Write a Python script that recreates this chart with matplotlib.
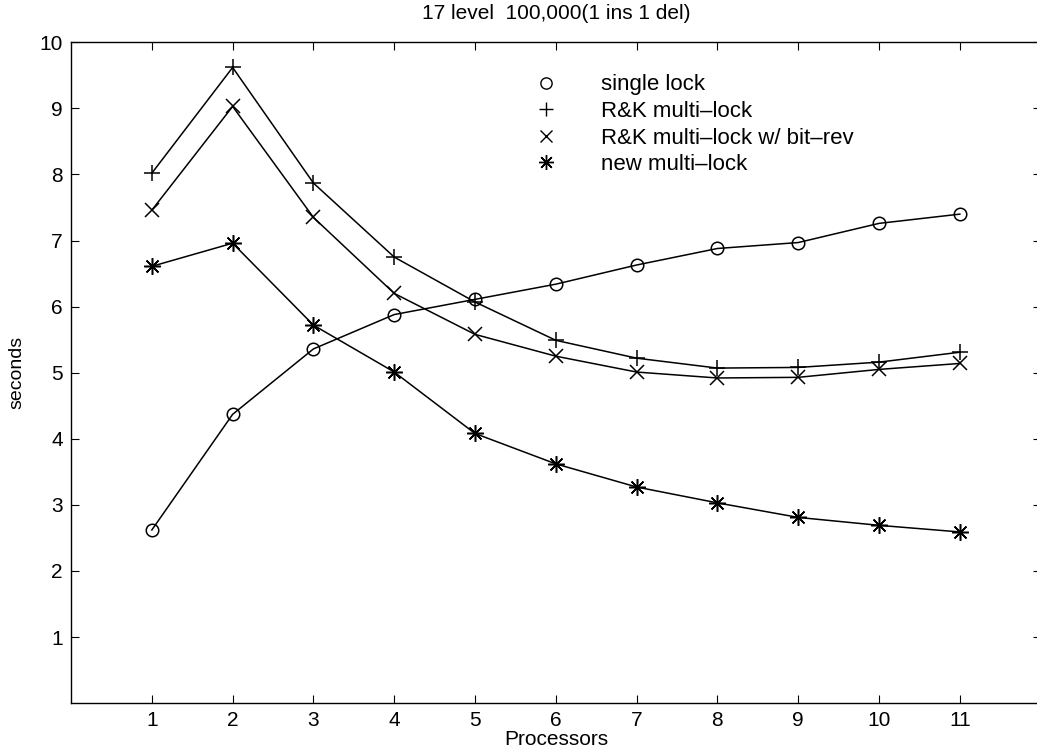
import matplotlib.pyplot as plt
from matplotlib.lines import Line2D

plt.rcParams['font.family'] = ['Liberation Sans', 'DejaVu Sans']

processors = [1, 2, 3, 4, 5, 6, 7, 8, 9, 10, 11]

# seconds
singleLock = [2.62, 4.37, 5.36, 5.88, 6.11, 6.34, 6.63, 6.88, 6.97, 7.26, 7.40]
rkMulti = [8.02, 9.62, 7.87, 6.75, 6.07, 5.49, 5.22, 5.07, 5.08, 5.16, 5.31]
rkBitRev = [7.46, 9.03, 7.35, 6.20, 5.58, 5.25, 5.01, 4.92, 4.93, 5.05, 5.14]
newMulti = [6.61, 6.96, 5.72, 5.01, 4.08, 3.62, 3.27, 3.03, 2.81, 2.69, 2.59]

labels = ['single lock', 'R&K multi\u2013lock', 'R&K multi\u2013lock w/ bit\u2013rev', 'new multi\u2013lock']
# matlab style asterisk = 8 armed star marker
markers = ['o', '+', 'x', (8, 2, 0)]
sizes = [9, 11, 10, 12]

fig = plt.figure(figsize=(10.37, 7.56), dpi=100)
ax = fig.add_axes([0.0685, 0.070, 0.935, 0.874])

for ys, m, s in zip([singleLock, rkMulti, rkBitRev, newMulti], markers, sizes):
    ax.plot(processors, ys, color='black', linewidth=1.1, marker=m, markersize=s,
            markerfacecolor='none', markeredgecolor='black', markeredgewidth=1.1)

ax.set_xlim(0, 12)
ax.set_ylim(0, 10)
ax.set_xticks(processors)
ax.set_yticks(range(1, 11))
ax.tick_params(direction='in', top=True, right=True, length=6, width=0.8,
               labelsize=15, pad=6)
for sp in ax.spines.values():
    sp.set_linewidth(1.0)

ax.set_xlabel('Processors', fontsize=15, labelpad=0)
ax.set_ylabel('seconds', fontsize=14, labelpad=10)
ax.set_title('17 level  100,000(1 ins 1 del)', fontsize=15, pad=17)

handles = [Line2D([], [], linestyle='none', color='black', marker=m, markersize=s * 0.9,
                  markerfacecolor='none', markeredgewidth=1.0)
           for m, s in zip(markers, sizes)]
ax.legend(handles, labels, loc='upper left', bbox_to_anchor=(0.462, 0.975),
          frameon=False, fontsize=16, handlelength=1.0, handletextpad=2.0,
          labelspacing=0.25, numpoints=1, borderaxespad=0.3)

fig.savefig('out.png', dpi=100)
